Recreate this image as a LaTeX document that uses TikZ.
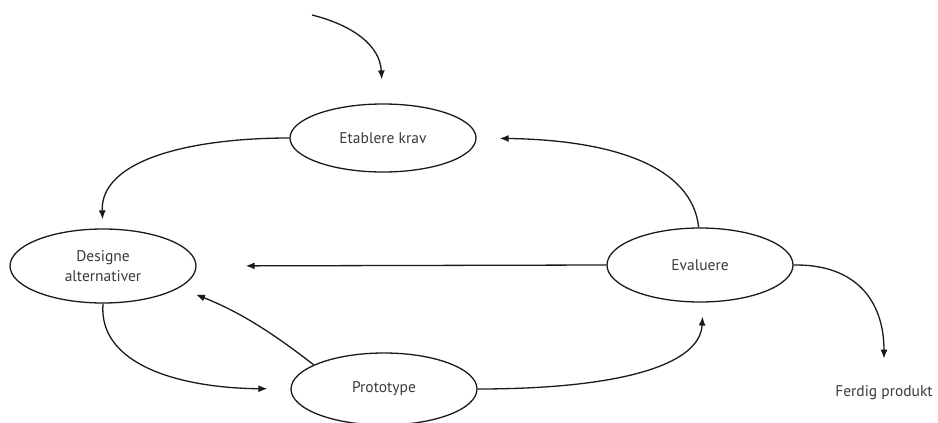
\documentclass[tikz,border=0pt]{standalone}
\usepackage{fontspec}
\setmainfont{PT Sans}
\usetikzlibrary{arrows.meta,shapes.geometric}
\definecolor{ink}{HTML}{1A1A1A}
\definecolor{txt}{HTML}{3A3A3A}
\begin{document}
\begin{tikzpicture}[x=1pt,y=-1pt,
  every node/.style={font=\fontsize{15.5}{19}\selectfont, text=txt},
  phase/.style={ellipse, draw=ink, line width=1.3pt, inner sep=0pt,
    minimum width=186pt, align=center},
  flow/.style={draw=ink, line width=1.3pt, -{Latex[length=9pt,width=7pt]}}]
  \useasboundingbox (0,0) rectangle (938,423);

  % the four phases of the cycle
  \node[phase, minimum height=68pt] (etab)  at (383,138) {Etablere krav};
  \node[phase, minimum height=74pt] (desig) at (103,266) {Designe\\[1pt]alternativer};
  \node[phase, minimum height=74pt] (eval)  at (700,265) {Evaluere};
  \node[phase, minimum height=72pt] (proto) at (384,389) {Prototype};
  \node[inner sep=0pt] (ferdig) at (884,393) {Ferdig produkt};

  % entry into the cycle
  \coordinate (entry) at (312,15);
  \draw[flow, shorten >=24pt] (entry) .. controls (352,25) and (380,45) .. (etab.north);

  % connectors between phases
  \draw[flow, shorten >=9pt] (etab.west) .. controls (190,138) and (100,160) .. (desig.north);
  \draw[flow, shorten >=23pt] (eval.92) .. controls (692,165) and (610,140) .. (etab.east);
  \draw[flow, shorten >=49pt] (eval.west) -- (desig.east);
  \draw[flow, shorten >=18pt] (proto.161) to[bend right=8] (desig.-16);
  \draw[flow, shorten >=23pt] (desig.south) .. controls (98,365) and (180,388) .. (proto.west);
  \draw[flow, shorten >=14pt] (proto.east) .. controls (620,389) and (700,365) .. (eval.-85);
  \draw[flow, shorten >=27pt] (eval.east) .. controls (855,264) and (884,300) .. (ferdig.north);
\end{tikzpicture}
\end{document}
